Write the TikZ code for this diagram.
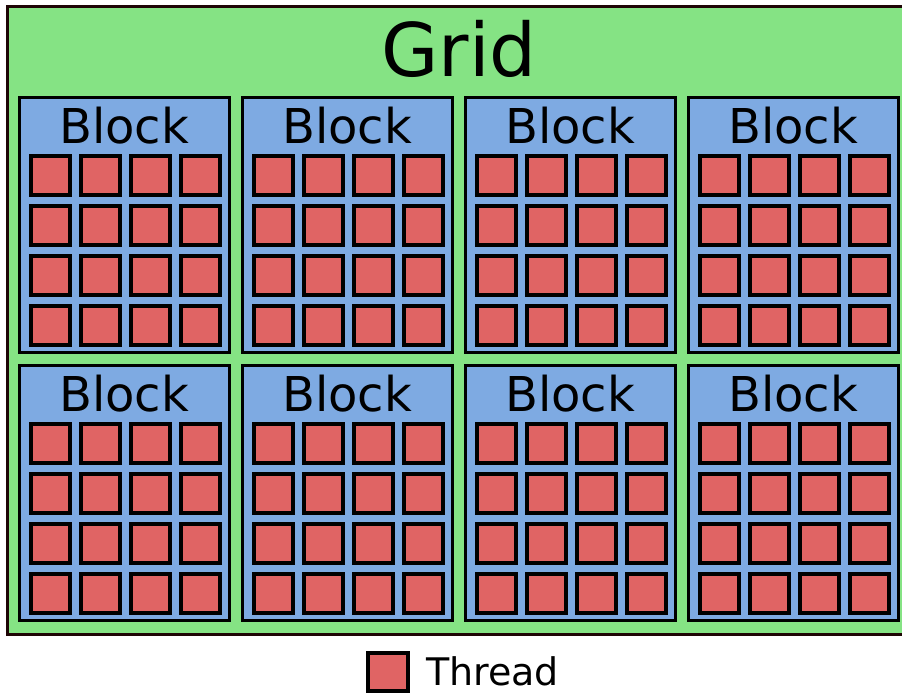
\documentclass[tikz,border=0pt]{standalone}
\usepackage{fontspec}
\setmainfont{DejaVu Sans}
\definecolor{gridgreen}{RGB}{133,227,132}
\definecolor{blockblue}{RGB}{126,170,226}
\definecolor{threadred}{RGB}{224,100,100}
\definecolor{gridedge}{RGB}{30,5,5}
\begin{document}
\begin{tikzpicture}[x=1pt,y=-1pt,
  gridbox/.style={fill=gridgreen,draw=gridedge,line width=3pt},
  blockbox/.style={fill=blockblue,draw=black,line width=3.2pt},
  threadbox/.style={fill=threadred,draw=black,line width=4pt},
  label/.style={inner sep=0pt,anchor=base,text=black}]
\useasboundingbox (0,0) rectangle (902,693);
% the grid
\draw[gridbox] (7.5,6.5) rectangle (912,634.5);
\node[label,font=\fontsize{74}{74}\selectfont] (gridlabel) at (459,77) {Grid};
% 2 x 4 blocks, each holding 4 x 4 threads
\foreach \r in {0,1}{
  \foreach \c in {0,1,2,3}{
    \pgfmathsetmacro{\bx}{18+223*\c}
    \pgfmathsetmacro{\by}{96+268*\r}
    \draw[blockbox] (\bx+1.6,\by+1.6) rectangle (\bx+211.4,\by+256.4);
    \node[label,font=\fontsize{48}{48}\selectfont] (block-\r-\c) at (\bx+106,\by+47) {Block};
    \foreach \i in {0,1,2,3}{
      \foreach \j in {0,1,2,3}{
        \draw[threadbox] (\bx+11+50*\i+2,\by+58+50*\j+2) rectangle ++(39,39);
      }
    }
  }
}
% legend
\draw[threadbox] (368,653) rectangle ++(40,38);
\node[label,font=\fontsize{38}{38}\selectfont,anchor=base west] (threadlabel) at (426,685) {Thread};
\end{tikzpicture}
\end{document}
